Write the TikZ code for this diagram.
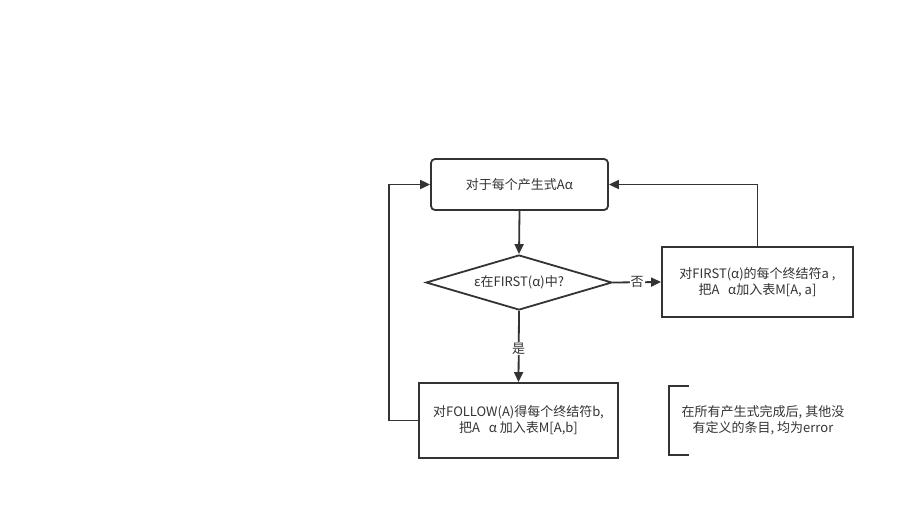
\documentclass[tikz,border=0pt]{standalone}
\usepackage{fontspec}
\setmainfont{Noto Sans CJK SC}
\usetikzlibrary{arrows.meta,shapes.geometric}
\definecolor{ink}{HTML}{333333}
\begin{document}
\begin{tikzpicture}[x=1pt,y=-1pt,
  every node/.style={font=\fontsize{13}{16}\selectfont, text=ink},
  boxstyle/.style={draw=ink, line width=1.8pt, fill=white, inner sep=0pt, align=center},
  conn/.style={draw=ink, line width=1.8pt},
  arr/.style={conn, -{Triangle[length=10pt,width=9pt]}},
  lbl/.style={fill=white, inner sep=1pt, font=\fontsize{13}{15}\selectfont}]
\useasboundingbox (0,0) rectangle (920,519);
\node[boxstyle, rounded corners=4pt, minimum width=177pt, minimum height=51pt] (top) at (519.5,184.5) {对于每个产生式Aα};
\node[boxstyle, diamond, aspect=3.38, minimum width=186pt, minimum height=55pt] (dec) at (519,282.5) {};
\node at (519,282.5) {ε在FIRST(α)中?};
\node[boxstyle, minimum width=191pt, minimum height=70pt] (right) at (757.5,282) {对FIRST(α)的每个终结符a ,\\把A\ \ \ α加入表M[A, a]};
\node[boxstyle, minimum width=199pt, minimum height=75pt] (bot) at (518.5,420.5) {对FOLLOW(A)得每个终结符b,\\把A\ \ \ α 加入表M[A,b]};
\draw[arr] (top.south) -- (dec.north);
\draw[arr] (dec.east) -- node[lbl, pos=0.5] {否} (right.west);
\draw[arr] (dec.south) -- node[lbl, pos=0.53] {是} (bot.north);
\draw[arr] (right.north) |- (top.east);
\coordinate (lc) at (389,420.5);
\draw[arr] (bot.west) -- (lc) |- (top.west);
\coordinate (b1) at (689,386);
\coordinate (b2) at (669,386);
\coordinate (b3) at (669,455);
\coordinate (b4) at (689,455);
\draw[conn] (b1) -- (b2) -- (b3) -- (b4);
\node[align=center] (note) at (763,420.5) {在所有产生式完成后, 其他没\\有定义的条目, 均为error};
\end{tikzpicture}
\end{document}
